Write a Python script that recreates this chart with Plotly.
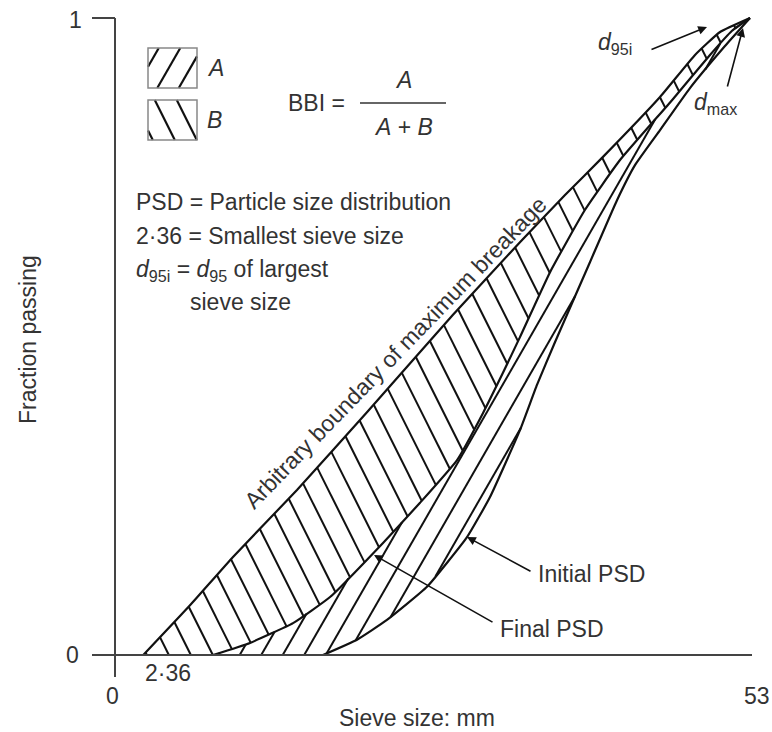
import numpy as np
import plotly.graph_objects as go

# ---------------- data ----------------
boundary_x = [2.36, 6.26, 9.85, 15.19, 21.03, 28.21, 33.80, 37.56, 40.73, 45.49, 48.41, 50.50, 53.0]
boundary_y = [0.0, 0.078, 0.154, 0.259, 0.381, 0.534, 0.648, 0.722, 0.782, 0.876, 0.942, 0.978, 1.0]

final_x = [8.18, 11.27, 14.86, 17.95, 22.37, 25.46, 28.55, 30.72, 32.38, 33.80, 36.31, 39.23, 42.15, 46.49, 49.66, 51.50, 53.0]
final_y = [0.0, 0.019, 0.050, 0.091, 0.176, 0.239, 0.306, 0.380, 0.443, 0.499, 0.601, 0.699, 0.777, 0.871, 0.942, 0.980, 1.0]

initial_x = [17.36, 20.20, 22.70, 26.04, 29.38, 31.30, 33.80, 35.22, 36.72, 39.65, 41.90, 43.40, 45.49, 47.99, 50.91, 53.0]
initial_y = [0.0, 0.024, 0.055, 0.107, 0.185, 0.248, 0.353, 0.424, 0.491, 0.617, 0.714, 0.769, 0.824, 0.890, 0.956, 1.0]

x_tick_vals = [0, 53]
x_tick_text = ["0", "53"]
y_tick_vals = [0, 1]
y_tick_text = ["0", "1"]
smallest_sieve = 2.36
smallest_sieve_text = "2·36"

# ---------------- layout frame (pixels) ----------------
W, H = 772, 732
PX0, PX53 = 115, 750      # pixel columns of x=0 and x=53
PY0, PY1 = 655, 18        # pixel rows of y=0 and y=1
SX = (PX53 - PX0) / 53.0
SY = (PY0 - PY1) / 1.0


def X(px):
    return (px - PX0) / SX


def Y(py):
    return (PY0 - py) / SY


def PX(px):
    return px / W


def PY(py):
    return 1 - py / H


INK = "#111111"
TXT = "#333333"
FONT = "Liberation Sans, Arial, sans-serif"
FS = 23

# hatch directions (data units): x = c + k*y
K_B = -0.50 * SY / SX     # "\" hatch
K_A = 0.575 * SY / SX     # "/" hatch
STEP_B = 22 / SX
STEP_A = 21.5 / SX


def hatch(left, right, yg, k, step, phase=0.0):
    xs, ys = [], []
    cmin = np.min(left) - np.max(k * yg) - step
    cmax = np.max(right) - np.min(k * yg) + step
    for c in np.arange(cmin + phase, cmax, step):
        xl = c + k * yg
        inside = (xl >= left) & (xl <= right) & (right > left)
        idx = np.flatnonzero(inside)
        if idx.size == 0:
            continue
        br = np.flatnonzero(np.diff(idx) > 1)
        starts = np.r_[idx[0], idx[br + 1]]
        ends = np.r_[idx[br], idx[-1]]
        for s, e in zip(starts, ends):
            if e > s:
                xs += [xl[s], xl[e], None]
                ys += [yg[s], yg[e], None]
    return xs, ys


yg = np.linspace(0, 1, 6001)
bx = np.interp(yg, boundary_y, boundary_x)
fx = np.interp(yg, final_y, final_x)
ix = np.interp(yg, initial_y, initial_x)

hb_x, hb_y = hatch(bx, fx, yg, K_B, STEP_B, 0.3)
ha_x, ha_y = hatch(fx, ix, yg, K_A, STEP_A, 0.5)

fig = go.Figure()

# hatch lines of regions
fig.add_trace(go.Scatter(x=hb_x, y=hb_y, mode="lines", line=dict(color=INK, width=2),
                         hoverinfo="skip", showlegend=False))
fig.add_trace(go.Scatter(x=ha_x, y=ha_y, mode="lines", line=dict(color=INK, width=2),
                         hoverinfo="skip", showlegend=False))

# curves
for cx, cy in [(boundary_x, boundary_y), (final_x, final_y), (initial_x, initial_y)]:
    fig.add_trace(go.Scatter(x=cx, y=cy, mode="lines",
                             line=dict(color=INK, width=2.2, shape="spline", smoothing=0.4),
                             hoverinfo="skip", showlegend=False))

# legend swatches (A: "/", B: "\")
sw_l, sw_r = X(148), X(197)
for (top, bot, k, step, ph) in [(48, 88, K_A, STEP_A, 0.9), (100, 140, K_B, STEP_B, 0.4)]:
    ys_box = np.linspace(Y(bot), Y(top), 800)
    lx, ly = hatch(np.full_like(ys_box, sw_l), np.full_like(ys_box, sw_r), ys_box, k, step, ph)
    fig.add_trace(go.Scatter(x=lx, y=ly, mode="lines", line=dict(color=INK, width=2.2),
                             hoverinfo="skip", showlegend=False))

shapes = [
    # axes
    dict(type="line", x0=X(92), x1=X(752), y0=0, y1=0, line=dict(color="#444444", width=2)),
    dict(type="line", x0=0, x1=0, y0=Y(677), y1=1, line=dict(color="#444444", width=2)),
    dict(type="line", x0=X(92), x1=0, y0=1, y1=1, line=dict(color="#444444", width=2)),
    # legend boxes
    dict(type="rect", x0=sw_l, x1=sw_r, y0=Y(88), y1=Y(48), line=dict(color="#888888", width=1.5)),
    dict(type="rect", x0=sw_l, x1=sw_r, y0=Y(140), y1=Y(100), line=dict(color="#888888", width=1.5)),
    # fraction bar
    dict(type="line", x0=X(360), x1=X(446), y0=Y(103), y1=Y(103), line=dict(color=TXT, width=1.5)),
]

ann = []


def text(s, px, py, anchor="left", size=FS, angle=0, color=TXT):
    ann.append(dict(text=s, x=PX(px), y=PY(py), xref="paper", yref="paper", showarrow=False,
                    xanchor=anchor, yanchor="middle", textangle=angle,
                    font=dict(family=FONT, size=size, color=color)))


def arrow(tail, head):
    ann.append(dict(text="", x=PX(head[0]), y=PY(head[1]), xref="paper", yref="paper",
                    ax=tail[0] - head[0], ay=tail[1] - head[1], showarrow=True,
                    arrowhead=2, arrowsize=1.1, arrowwidth=1.6, arrowcolor=INK, standoff=0))


text("PSD = Particle size distribution", 134, 202)
text(smallest_sieve_text + " = Smallest sieve size", 134, 236)
text("<i>d</i><sub>95i</sub> = <i>d</i><sub>95</sub> of largest", 134, 270)
text("sieve size", 188, 302)
text("BBI =", 347, 103, anchor="right")
text("<i>A</i>", 403, 80, anchor="center")
text("<i>A</i> + <i>B</i>", 403, 127, anchor="center")
text("<i>A</i>", 205, 68)
text("<i>B</i>", 205, 120)
text("Initial PSD", 536, 574)
text("Final PSD", 498, 629)
text("<i>d</i><sub>95i</sub>", 596, 44)
text("<i>d</i><sub>max</sub>", 692, 104)
text("Arbitrary boundary of maximum breakage", 395, 353, anchor="center", angle=-46)
text("Fraction passing", 28, 340, anchor="center", angle=-90)
text("Sieve size: mm", 417, 718, anchor="center")

# tick labels
tick_font = dict(family=FONT, size=FS, color=TXT)
ann.append(dict(text=y_tick_text[0], x=PX(72), y=y_tick_vals[0], xref="paper", yref="y", showarrow=False,
                xanchor="center", yanchor="middle", font=tick_font))
ann.append(dict(text=y_tick_text[1], x=PX(75), y=y_tick_vals[1], xref="paper", yref="y", showarrow=False,
                xanchor="center", yanchor="middle", yshift=-2, font=tick_font))
ann.append(dict(text=x_tick_text[0], x=x_tick_vals[0], y=PY(696), xref="x", yref="paper", showarrow=False,
                xanchor="center", yanchor="middle", xshift=-3, font=tick_font))
ann.append(dict(text=x_tick_text[1], x=x_tick_vals[1], y=PY(696), xref="x", yref="paper", showarrow=False,
                xanchor="center", yanchor="middle", xshift=7, font=tick_font))
ann.append(dict(text=smallest_sieve_text, x=smallest_sieve, y=PY(673), xref="x", yref="paper", showarrow=False,
                xanchor="left", yanchor="middle", font=tick_font))

arrow((532, 572), (467, 537))
arrow((494, 623), (374, 555))
arrow((650, 50), (707, 27))
arrow((727, 88), (743, 28))

fig.update_layout(
    width=W, height=H, margin=dict(l=0, r=0, t=0, b=0),
    paper_bgcolor="white", plot_bgcolor="white",
    xaxis=dict(range=[X(0), X(W)], visible=False, fixedrange=True),
    yaxis=dict(range=[Y(H), Y(0)], visible=False, fixedrange=True),
    shapes=shapes, annotations=ann, showlegend=False,
)

fig.write_html("out.html", config={"displayModeBar": False},
               post_script="document.body.style.margin='0';")
